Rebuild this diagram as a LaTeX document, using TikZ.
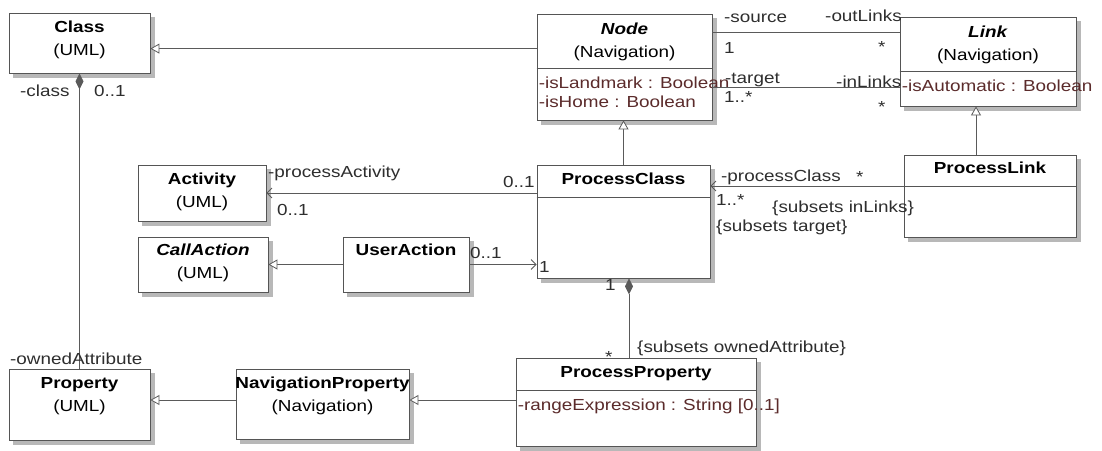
\documentclass[tikz,border=0pt]{standalone}
\usepackage{fontspec}
\setmainfont{Liberation Sans}[FakeStretch=1.18]
\usepackage{xcolor}
\usepackage{tikz}
\usetikzlibrary{arrows.meta,calc,backgrounds}

\definecolor{boxgray}{HTML}{555555}
\definecolor{linegray}{HTML}{5A5A5A}
\definecolor{shadowgray}{HTML}{B8B8B8}
\definecolor{attrtext}{HTML}{5B2B2B}
\definecolor{lbltext}{HTML}{2E2E2E}

\begin{document}
\begin{tikzpicture}[x=1pt, y=-1pt, font=\fontsize{16}{19}\selectfont, >={Straight Barb[length=5pt, width=10pt]}]
    \tikzstyle{umlbox} = [draw=boxgray, line width=0.8pt, fill=white, inner sep=0pt]
    \tikzstyle{title} = [font=\fontsize{16}{23}\selectfont, align=center, anchor=base, inner sep=0pt]
    \tikzstyle{attr} = [anchor=base west, inner sep=0pt, text=attrtext]
    \tikzstyle{lbl} = [anchor=base west, inner sep=0pt, text=lbltext]
    \tikzstyle{sepline} = [draw=boxgray, line width=0.8pt]
    \tikzstyle{assoc} = [draw=linegray, line width=0.8pt]
    \tikzstyle{gen} = [assoc, -{Triangle[length=9pt, width=10pt, fill=white]}]
    \tikzstyle{nav} = [assoc, ->]
    \tikzstyle{comp} = [assoc, {Diamond[length=16pt, width=8pt]}-]

    \path [use as bounding box] (0,0) rectangle (1102,450);

    % classes
    \node [umlbox, minimum width=141pt, minimum height=60pt] (cls) at (79.5,43) {};
    \node [title] (clst) at ([yshift=-43pt]cls.north) {\textbf{Class}\\(UML)};

    \node [umlbox, minimum width=175pt, minimum height=106pt] (nde) at (624.5,67) {};
    \node [title] (ndet) at ([yshift=-44pt]nde.north) {\textbf{\itshape Node}\\(Navigation)};
    \draw [sepline] ([yshift=-55pt]nde.north west) -- ([yshift=-55pt]nde.north east);
    \node [attr] (ndea) at ([xshift=2pt, yshift=-74.5pt]nde.north west) {-isLandmark : Boolean};
    \node [attr] (ndeb) at ([xshift=2pt, yshift=-94pt]nde.north west) {-isHome : Boolean};

    \node [umlbox, minimum width=176pt, minimum height=89pt] (lnk) at (988,61.5) {};
    \node [title] (lnkt) at ([yshift=-44pt]lnk.north) {\textbf{\itshape Link}\\(Navigation)};
    \draw [sepline] ([yshift=-55pt]lnk.north west) -- ([yshift=-55pt]lnk.north east);
    \node [attr] (lnka) at ([xshift=2pt, yshift=-75pt]lnk.north west) {-isAutomatic : Boolean};

    \node [umlbox, minimum width=172pt, minimum height=82pt] (plink) at (990,196) {};
    \node [title] (plinkt) at ([yshift=-19pt]plink.north) {\textbf{ProcessLink}};
    \draw [sepline] ([yshift=-32pt]plink.north west) -- ([yshift=-32pt]plink.north east);

    \node [umlbox, minimum width=173pt, minimum height=113pt] (pclass) at (623.5,221.5) {};
    \node [title] (pclasst) at ([yshift=-20pt]pclass.north) {\textbf{ProcessClass}};
    \draw [sepline] ([yshift=-33pt]pclass.north west) -- ([yshift=-33pt]pclass.north east);

    \node [umlbox, minimum width=128pt, minimum height=56pt] (act) at (202,193) {};
    \node [title] (actt) at ([yshift=-43pt]act.north) {\textbf{Activity}\\(UML)};

    \node [umlbox, minimum width=130pt, minimum height=55pt] (call) at (203,264.5) {};
    \node [title] (callt) at ([yshift=-42pt]call.north) {\textbf{\itshape CallAction}\\(UML)};

    \node [umlbox, minimum width=126pt, minimum height=55pt] (uact) at (406,264.5) {};
    \node [title] (uactt) at ([yshift=-19pt]uact.north) {\textbf{UserAction}};

    \node [umlbox, minimum width=141pt, minimum height=71pt] (prop) at (79.5,404.5) {};
    \node [title] (propt) at ([yshift=-43pt]prop.north) {\textbf{Property}\\(UML)};

    \node [umlbox, minimum width=173pt, minimum height=70pt] (navprop) at (322.5,404) {};
    \node [title] (navpropt) at ([yshift=-43pt]navprop.north) {\textbf{NavigationProperty}\\(Navigation)};

    \node [umlbox, minimum width=240pt, minimum height=88pt] (pprop) at (636,402) {};
    \node [title] (ppropt) at ([yshift=-20pt]pprop.north) {\textbf{ProcessProperty}};
    \draw [sepline] ([yshift=-33pt]pprop.north west) -- ([yshift=-33pt]pprop.north east);
    \node [attr] (ppropa) at ([xshift=2pt, yshift=-52.5pt]pprop.north west) {-rangeExpression : String [0..1]};

    % shadows behind the boxes
    \begin{scope}[on background layer]
        \fill [white] (0,0) rectangle (1102,450);
        \foreach \b in {cls,nde,lnk,plink,pclass,act,call,uact,prop,navprop,pprop}
            \fill [shadowgray] ([shift={(4.5pt,-4.5pt)}]\b.south west) rectangle ([shift={(4.5pt,-4.5pt)}]\b.north east);
    \end{scope}

    % generalizations
    \coordinate (g1) at ([yshift=-35pt]nde.north west);
    \draw [gen] (g1) -- (g1 -| cls.east);
    \draw [gen] (pclass.north) -- (pclass.north |- nde.south);
    \coordinate (g2) at ([xshift=-14pt]plink.north);
    \draw [gen] (g2) -- (g2 |- lnk.south);
    \draw [gen] (uact.west) -- (call.east);
    \coordinate (g3) at ([yshift=4pt]navprop.east);
    \draw [gen] (g3 -| pprop.west) -- (g3);
    \draw [gen] (g3 -| navprop.west) -- (g3 -| prop.east);

    % associations
    \coordinate (a1) at ([yshift=-19pt]nde.north east);
    \draw [assoc] (a1) -- (a1 -| lnk.west);
    \coordinate (a2) at ([yshift=-74pt]nde.north east);
    \draw [assoc] (a2) -- (a2 -| lnk.west);
    \coordinate (a3) at ([yshift=10pt]plink.west);
    \draw [nav] (a3) -- (a3 -| pclass.east);
    \draw [nav] (act.east -| pclass.west) -- (act.east);
    \draw [nav] (uact.east) -- (uact.east -| pclass.west);
    \draw [comp] (cls.south) -- (prop.north);
    \coordinate (a4) at ([xshift=5.5pt]pclass.south);
    \draw [comp] (a4) -- (a4 |- pprop.north);

    % association ends
    \node [lbl] (lclass) at (20,96) {-class};
    \node [lbl] (lclassm) at (94,96) {0..1};
    \node [lbl] (lowned) at (10,364) {-ownedAttribute};
    \node [lbl] (lsrc) at (724,22) {-source};
    \node [lbl] (lsrcm) at (724,53) {1};
    \node [lbl] (lout) at (825,21) {-outLinks};
    \node [lbl] (loutm) at (878,52) {*};
    \node [lbl] (ltgt) at (725,83) {-target};
    \node [lbl] (ltgtm) at (724,102) {1..*};
    \node [lbl] (lin) at (836,87) {-inLinks};
    \node [lbl] (linm) at (878,112) {*};
    \node [lbl] (lpact) at (268,177) {-processActivity};
    \node [lbl] (lpactm) at (503,187) {0..1};
    \node [lbl] (lactm) at (277,215) {0..1};
    \node [lbl] (luactm) at (470,258) {0..1};
    \node [lbl] (lpcm) at (539,272) {1};
    \node [lbl] (lpcls) at (721,181) {-processClass};
    \node [lbl] (lpclsm) at (856,182) {*};
    \node [lbl] (lplm) at (716,205) {1..*};
    \node [lbl] (lsubin) at (772,212) {\{subsets inLinks\}};
    \node [lbl] (lsubtgt) at (716,231) {\{subsets target\}};
    \node [lbl] (lownm) at (605,290) {1};
    \node [lbl] (lppm) at (605,362) {*};
    \node [lbl] (lsubown) at (637,352) {\{subsets ownedAttribute\}};
\end{tikzpicture}
\end{document}
